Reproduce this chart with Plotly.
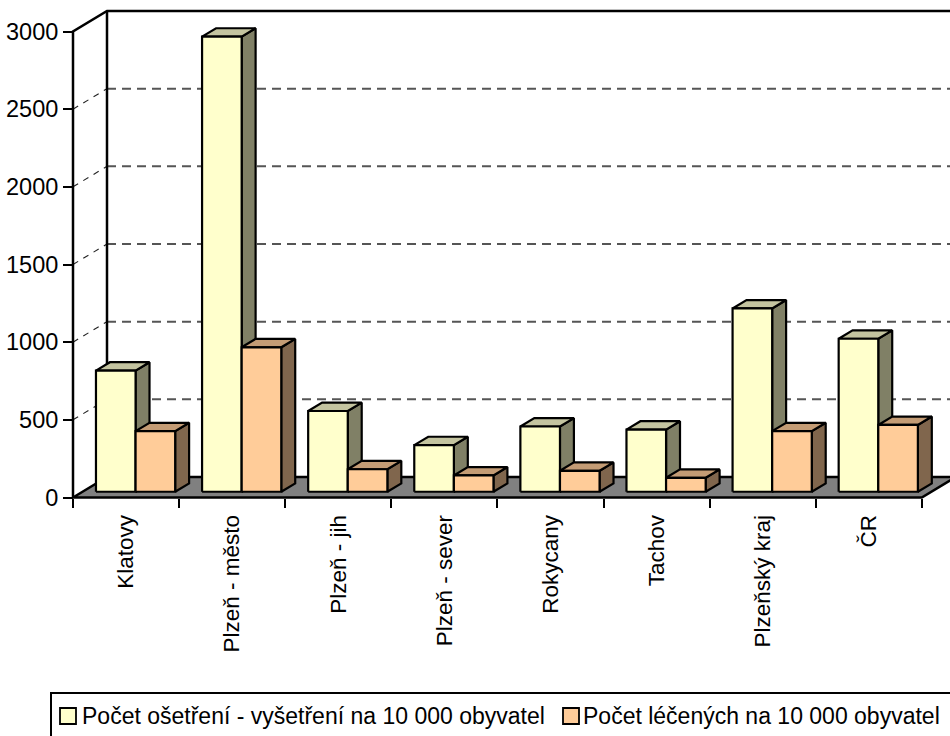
import plotly.graph_objects as go

# ---------------- data ----------------
categories = ["Klatovy", "Plzeň - město", "Plzeň - jih", "Plzeň - sever",
              "Rokycany", "Tachov", "Plzeňský kraj", "ČR"]
osetreni = [780, 2930, 520, 300, 420, 400, 1180, 985]
leceni = [390, 930, 145, 105, 135, 90, 390, 430]
series_names = ["Počet ošetření - vyšetření na 10 000 obyvatel",
                "Počet léčených na 10 000 obyvatel"]
y_ticks = [0, 500, 1000, 1500, 2000, 2500, 3000]

# ---------------- style / geometry ----------------
FONT = "Arial, Liberation Sans, sans-serif"
W, H = 950, 736
PL, PR, PT, PB = 30, 950, 2, 530          # plot area in px
X0_PX, Y0_PX = 73, 497.5                  # front axis origin in px
PX_PER_CAT = 106.1
PX_PER_UNIT = 466.0 / 3000.0
WALL_DX = 34 / PX_PER_CAT                 # depth of the 3D box (data units)
WALL_DY = 20.5 / PX_PER_UNIT
F0, F1 = 0.28, 0.69                       # bar front/back depth fractions
BAR_W = 39.6 / PX_PER_CAT

front_cols = ["#FFFFCC", "#FFCC99"]
top_cols = ["#C4C4A0", "#C49C75"]
side_cols = ["#808066", "#80664D"]

# legend layout (px)
LEG_BOX = (51, 693, 962, 748)
LEG_SWATCH_X = [60, 563]
LEG_TEXT_X = [80, 581]
LEG_CY = 716
LEG_SW = 16
LEG_FONT = 23


def px_x(p):
    return (p - PL) / (PR - PL)


def px_y(p):
    return (PB - p) / (PB - PT)


xr = [(PL - X0_PX) / PX_PER_CAT, (PR - X0_PX) / PX_PER_CAT]
yr = [(Y0_PX - PB) / PX_PER_UNIT, (Y0_PX - PT) / PX_PER_UNIT]

n = len(categories)
ymax = y_ticks[-1]
fig = go.Figure()


def line_trace(xs, ys, color="black", width=2.5, dash=None):
    fig.add_trace(go.Scatter(x=xs, y=ys, mode="lines", hoverinfo="skip",
                             showlegend=False,
                             line=dict(color=color, width=width, dash=dash)))


def poly_trace(xs, ys, fill, width=2.2, name=None):
    fig.add_trace(go.Scatter(x=xs, y=ys, mode="lines", fill="toself",
                             fillcolor=fill, hoverinfo="skip", showlegend=False,
                             name=name,
                             line=dict(color="black", width=width)))


# back-wall gridlines and side-wall diagonals
for v in y_ticks[1:-1]:
    line_trace([WALL_DX, n + WALL_DX], [v + WALL_DY, v + WALL_DY],
               color="#555555", width=2, dash="9px,6px")
    line_trace([0, WALL_DX], [v, v + WALL_DY], color="#222222", width=1.1,
               dash="6px,6px")

# walls
line_trace([WALL_DX, WALL_DX], [WALL_DY, ymax + WALL_DY])
line_trace([0, 0, WALL_DX, n + WALL_DX], [0, ymax, ymax + WALL_DY, ymax + WALL_DY])

# floor
poly_trace([0, n, n + WALL_DX, WALL_DX, 0], [0, 0, WALL_DY, WALL_DY, 0],
           "#808080", width=2.5)

# bars
dx0, dy0 = F0 * WALL_DX, F0 * WALL_DY
ddx, ddy = (F1 - F0) * WALL_DX, (F1 - F0) * WALL_DY
for i in range(n):
    c = i + 0.5 + dx0
    for s, vals in enumerate([osetreni, leceni]):
        v = vals[i]
        x1 = c - BAR_W + s * BAR_W
        x2 = x1 + BAR_W
        yb, yt = dy0, dy0 + v
        poly_trace([x2, x2 + ddx, x2 + ddx, x2, x2],
                   [yb, yb + ddy, yt + ddy, yt, yb], side_cols[s])
        poly_trace([x1, x2, x2 + ddx, x1 + ddx, x1],
                   [yt, yt, yt + ddy, yt + ddy, yt], top_cols[s])
        poly_trace([x1, x2, x2, x1, x1], [yb, yb, yt, yt, yb], front_cols[s],
                   name=series_names[s])

# legend (box, swatches, labels)
shapes = [dict(type="rect", xref="paper", yref="paper",
               x0=px_x(LEG_BOX[0]), x1=px_x(LEG_BOX[2]),
               y0=px_y(LEG_BOX[1]), y1=px_y(LEG_BOX[3]),
               line=dict(color="black", width=2), fillcolor="white",
               layer="above")]
annotations = []
for s in range(2):
    shapes.append(dict(type="rect", xref="paper", yref="paper",
                       x0=px_x(LEG_SWATCH_X[s]), x1=px_x(LEG_SWATCH_X[s] + LEG_SW),
                       y0=px_y(LEG_CY - LEG_SW / 2), y1=px_y(LEG_CY + LEG_SW / 2),
                       line=dict(color="black", width=1.8),
                       fillcolor=front_cols[s], layer="above"))
    annotations.append(dict(xref="paper", yref="paper", x=px_x(LEG_TEXT_X[s]),
                            y=px_y(LEG_CY), xanchor="left", yanchor="middle",
                            text=series_names[s], showarrow=False,
                            font=dict(family=FONT, size=LEG_FONT, color="black")))

fig.update_layout(
    width=W, height=H,
    margin=dict(l=PL, r=W - PR, t=PT, b=H - PB),
    paper_bgcolor="white", plot_bgcolor="white",
    font=dict(family=FONT, size=22, color="black"),
    showlegend=False,
    shapes=shapes, annotations=annotations,
    xaxis=dict(range=xr, anchor="free",
               position=(PB - Y0_PX) / (PB - PT),
               tickvals=[i + 0.5 for i in range(n)], ticktext=categories,
               tickangle=-90, ticks="", showgrid=False, zeroline=False,
               showline=False, ticklabelstandoff=12,
               tickfont=dict(family=FONT, size=22.5, color="black"),
               minor=dict(tickvals=list(range(n + 1)), ticks="outside",
                          ticklen=9, tickwidth=2, tickcolor="black",
                          showgrid=False)),
    yaxis=dict(range=yr, anchor="free",
               position=(X0_PX - PL) / (PR - PL),
               tickvals=y_ticks, ticks="outside", ticklen=10, tickwidth=2,
               tickcolor="black", showgrid=False, zeroline=False,
               showline=False,
               tickfont=dict(family=FONT, size=23.5, color="black")),
)

fig.write_html("out.html", config={"displayModeBar": False},
               post_script="document.body.style.margin='0px';")
